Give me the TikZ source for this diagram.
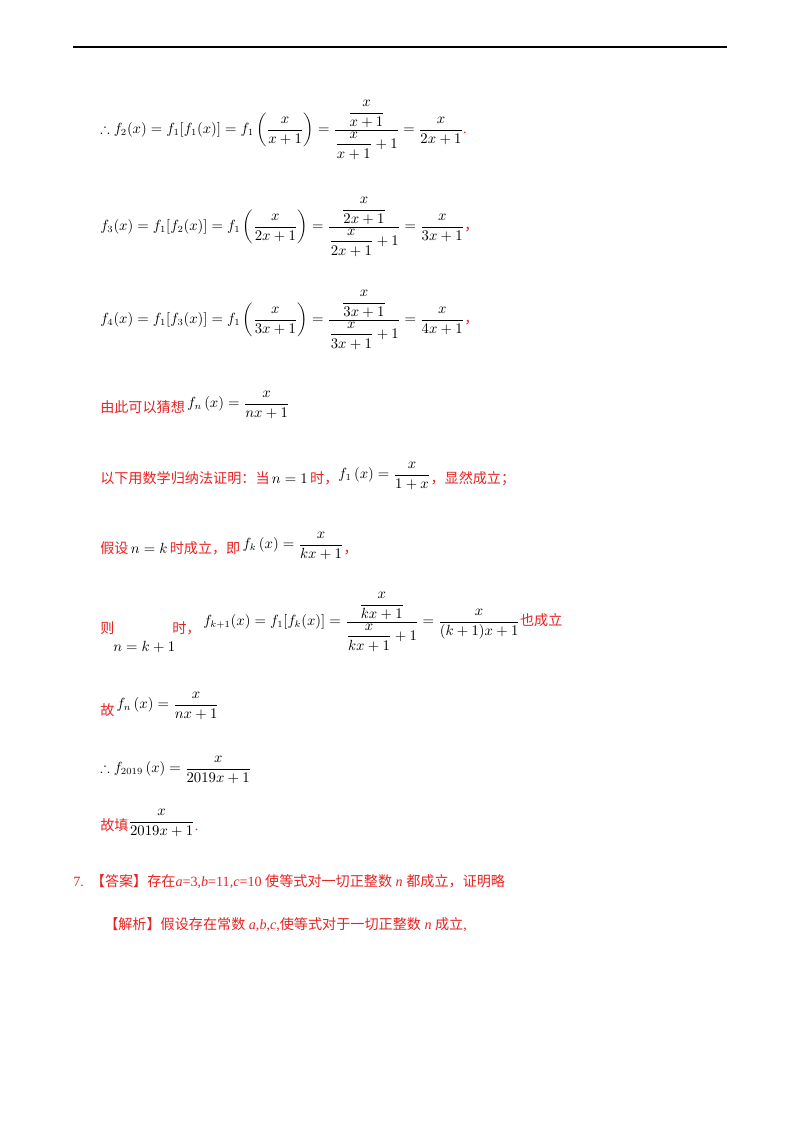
\documentclass[tikz,border=0pt]{standalone}
\usepackage{amsmath,amssymb}
\usepackage{fontspec}
\setmainfont{Liberation Serif}
\newfontfamily\cjk{Noto Sans CJK SC}
\definecolor{rd}{RGB}{230,35,35}
\begin{document}
\begin{tikzpicture}[x=0.744pt,y=-0.744pt,
  txt/.style={anchor=west,inner sep=0pt,font=\fontsize{10.5}{12}\selectfont},
  red/.style={txt,text=rd}]
\useasboundingbox (0,0) rectangle (800,1132);
\draw[line width=1pt] (73,47) coordinate (l1) -- (727,47) coordinate (l2);
\node[txt] (e1) at (100,130) {$\therefore f_2(x)=f_1[f_1(x)]=f_1\left(\dfrac{x}{x+1}\right)=\dfrac{\dfrac{x}{x+1}}{\dfrac{x}{x+1}+1}=\dfrac{x}{2x+1}$\textcolor{rd}{.}};
\node[txt] (e2) at (100,227) {$f_3(x)=f_1[f_2(x)]=f_1\left(\dfrac{x}{2x+1}\right)=\dfrac{\dfrac{x}{2x+1}}{\dfrac{x}{2x+1}+1}=\dfrac{x}{3x+1}$\textcolor{rd}{\cjk ，}};
\node[txt] (e3) at (100,320) {$f_4(x)=f_1[f_3(x)]=f_1\left(\dfrac{x}{3x+1}\right)=\dfrac{\dfrac{x}{3x+1}}{\dfrac{x}{3x+1}+1}=\dfrac{x}{4x+1}$\textcolor{rd}{\cjk ，}};
\node[red] (t4) at (100,405) {{\cjk 由此可以猜想}\,\raisebox{4pt}{\color{black}$f_n\left(x\right)=\dfrac{x}{nx+1}$}};
\node[red] (t5) at (100,476) {{\cjk 以下用数学归纳法证明：当}\,\color{black}$n=1$\color{rd}\,{\cjk 时，}\raisebox{4pt}{\color{black}$f_1\left(x\right)=\dfrac{x}{1+x}$}{\cjk ，显然成立；}};
\node[red] (t6) at (100,546) {{\cjk 假设}\,\color{black}$n=k$\color{rd}\,{\cjk 时成立，即}\,\raisebox{4pt}{\color{black}$f_k\left(x\right)=\dfrac{x}{kx+1}$}{\cjk ，}};
\node[red] (t7a) at (100,628) {\cjk 则};
\node[txt] (t7b) at (113,647) {$n=k+1$};
\node[red] (t7c) at (172,628) {\cjk 时，};
\node[txt] (t7d) at (203,622) {$f_{k+1}(x)=f_1[f_k(x)]=\dfrac{\dfrac{x}{kx+1}}{\dfrac{x}{kx+1}+1}=\dfrac{x}{(k+1)x+1}$\textcolor{rd}{\cjk 也成立}};
\node[red] (t8) at (100,706) {{\cjk 故}\,\raisebox{5pt}{\color{black}$f_n\left(x\right)=\dfrac{x}{nx+1}$}};
\node[txt] (t9) at (100,770) {$\therefore f_{2019}\left(x\right)=\dfrac{x}{2019x+1}$};
\node[red] (t10) at (100,823) {{\cjk 故填}\raisebox{4pt}{\color{black}$\dfrac{x}{2019x+1}$}.};
\node[red] (t11) at (73,882) {7.\ \ {\cjk 【答案】存在}\textit{a}=3,\textit{b}=11,\textit{c}=10 {\cjk 使等式对一切正整数} \textit{n} {\cjk 都成立，证明略}};
\node[red] (t12) at (104,925) {{\cjk 【解析】假设存在常数} \textit{a},\textit{b},\textit{c},{\cjk 使等式对于一切正整数} \textit{n} {\cjk 成立},};
\end{tikzpicture}
\end{document}
